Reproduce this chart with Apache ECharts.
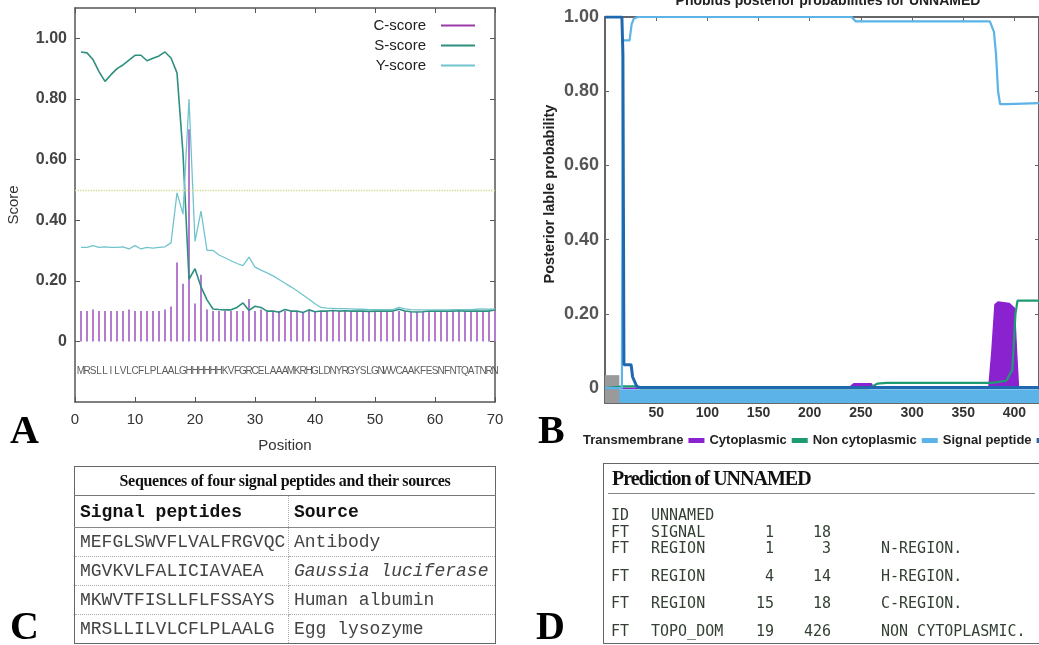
<!DOCTYPE html>
<html>
<head>
<meta charset="utf-8">
<script src="https://cdn.jsdelivr.net/npm/echarts@6/dist/echarts.min.js"></script>
<style>
  body { margin: 0; background: #fff; }
  #chart { position: absolute; left: 0; top: 0; width: 1039px; height: 645px; }
  .tag { position: absolute; font-family: 'Liberation Serif', 'DejaVu Serif', serif; font-weight: bold; font-size: 40px; line-height: 40px; color: #000; }
  #tblC { position: absolute; left: 74px; top: 466px; width: 421px; border-collapse: collapse; border: 1px solid #666; table-layout: fixed; }
  #tblC td { padding: 0 5px; white-space: nowrap; overflow: hidden; }
  #tblC .ttl { height: 28px; text-align: center; font: bold 16px 'Liberation Serif', serif; color: #111; border-bottom: 1px solid #777; letter-spacing: -0.3px; }
  #tblC .hd td { height: 31px; font: bold 18px 'Liberation Mono', monospace; color: #111; border-bottom: 1px solid #888; }
  #tblC .row td { height: 28px; font: 18px 'Liberation Mono', monospace; color: #444; border-bottom: 1px dotted #aaa; }
  #tblC td.c1 { border-right: 1px dotted #aaa; }
  #boxD { position: absolute; left: 603px; top: 463px; width: 460px; height: 179px; border: 1px solid #666; }
  #boxD .ttl { position: absolute; left: 8px; top: 3px; font: bold 20px 'Liberation Serif', serif; letter-spacing: -1px; color: #111; }
  #boxD .rule { position: absolute; left: 4px; top: 29px; width: 427px; border-top: 1px solid #888; }
  #boxD span { position: absolute; font: 15px 'DejaVu Sans Mono', monospace; line-height: 16px; color: #344034; white-space: pre; }
</style>
</head>
<body>
<div id="chart"></div>
<div class="tag" style="left:10px;top:410px;">A</div>
<div class="tag" style="left:538px;top:410px;">B</div>
<div class="tag" style="left:10px;top:606px;">C</div>
<div class="tag" style="left:536px;top:606px;">D</div>
<table id="tblC"></table>
<div id="boxD"></div>
<script>
// ---- panel A: SignalP scores along the sequence
const seqText = 'MRSLLILVLCFLPLAALGHHHHHHKVFGRCELAAAMKRHGLDNYRGYSLGNWVCAAKFESNFNTQATNRN';
const seqLetters = seqText.split('');
const cScore = [
  0.10, 0.10, 0.105, 0.10, 0.10, 0.10, 0.10, 0.10, 0.105, 0.10,
  0.10, 0.10, 0.10, 0.10, 0.105, 0.115, 0.26, 0.19, 0.70, 0.125,
  0.22, 0.105, 0.10, 0.10, 0.10, 0.10, 0.10, 0.10, 0.14, 0.10,
  0.105, 0.10, 0.097, 0.10, 0.10, 0.10, 0.097, 0.097, 0.10, 0.10,
  0.10, 0.10, 0.10, 0.10, 0.10, 0.10, 0.097, 0.097, 0.097, 0.097,
  0.10, 0.10, 0.097, 0.10, 0.10, 0.097, 0.097, 0.097, 0.097, 0.097,
  0.097, 0.097, 0.10, 0.10, 0.10, 0.10, 0.10, 0.10, 0.10, 0.10
];
const sScore = [
  0.955, 0.952, 0.93, 0.89, 0.858, 0.88, 0.90, 0.912, 0.928, 0.944,
  0.944, 0.926, 0.934, 0.942, 0.955, 0.935, 0.886, 0.62, 0.205, 0.24,
  0.18, 0.137, 0.107, 0.105, 0.104, 0.104, 0.112, 0.127, 0.102, 0.116,
  0.112, 0.10, 0.10, 0.096, 0.105, 0.10, 0.10, 0.095, 0.104, 0.098,
  0.10, 0.10, 0.102, 0.10, 0.101, 0.10, 0.10, 0.10, 0.099, 0.10,
  0.10, 0.10, 0.10, 0.106, 0.10, 0.098, 0.097, 0.098, 0.10, 0.10,
  0.10, 0.10, 0.10, 0.101, 0.10, 0.10, 0.10, 0.10, 0.10, 0.104
];
const yScore = [
  0.31, 0.31, 0.316, 0.31, 0.312, 0.31, 0.31, 0.312, 0.305, 0.316,
  0.305, 0.31, 0.308, 0.31, 0.312, 0.325, 0.49, 0.42, 0.80, 0.33,
  0.43, 0.30, 0.30, 0.285, 0.276, 0.266, 0.257, 0.25, 0.278, 0.245,
  0.235, 0.226, 0.216, 0.204, 0.192, 0.18, 0.167, 0.153, 0.139, 0.124,
  0.112, 0.11, 0.109, 0.108, 0.108, 0.107, 0.106, 0.106, 0.105, 0.105,
  0.105, 0.105, 0.105, 0.112, 0.107, 0.105, 0.104, 0.104, 0.104, 0.104,
  0.104, 0.104, 0.105, 0.105, 0.105, 0.105, 0.106, 0.107, 0.106, 0.107
];
const scoreTicks = [0, 0.2, 0.4, 0.6, 0.8, 1.0];
const positionTicks = [0, 10, 20, 30, 40, 50, 60, 70];
const cutoff = 0.5;

// ---- panel B: Phobius posterior probabilities, [position, probability]
const transmembrane = [[0, 0], [238, 0], [243, 0.012], [260, 0.012], [263, 0], [375, 0], [378, 0.1], [381, 0.225],
  [384, 0.232], [395, 0.228], [400, 0.215], [402, 0.1], [404, 0], [424, 0]];
const cytoplasmic = [[0, 0], [18, 0.005], [30, 0.005], [35, 0], [258, 0], [266, 0.012], [275, 0.014], [378, 0.014],
  [392, 0.02], [398, 0.05], [401, 0.2], [403, 0.236], [424, 0.236]];
const nonCytoplasmic = [[0, 0], [16.5, 0], [17.5, 0.937], [24, 0.937], [26, 0.98], [28, 0.995], [32, 1], [241, 1],
  [245, 0.988], [376, 0.988], [380, 0.96], [382, 0.9], [384, 0.8], [386, 0.765], [393, 0.765], [394, 0.768], [424, 0.768]];
const signalPeptide = [[0, 1], [16.5, 1], [17.5, 0.9], [18.5, 0.063], [25.5, 0.063], [27, 0.03], [31, 0.005],
  [34, 0.002], [424, 0.002]];
const probTicks = [0, 0.2, 0.4, 0.6, 0.8, 1.0];
const residueTicks = [0, 50, 100, 150, 200, 250, 300, 350, 400];
const residueLabels = [50, 100, 150, 200, 250, 300, 350, 400];

// ---- panel C / D tables
const tableCTitle = 'Sequences of four signal peptides and their sources';
const tableCHeader = ['Signal peptides', 'Source'];
const peptides = ['MEFGLSWVFLVALFRGVQC', 'MGVKVLFALICIAVAEA', 'MKWVTFISLLFLFSSAYS', 'MRSLLILVLCFLPLAALG'];
const sources = ['Antibody', 'Gaussia luciferase', 'Human albumin', 'Egg lysozyme'];
const italicSources = ['Gaussia luciferase'];

const tableDTitle = 'Prediction of UNNAMED';
const predRows = [
  ['ID', 'UNNAMED', '', '', ''],
  ['FT', 'SIGNAL', '1', '18', ''],
  ['FT', 'REGION', '1', '3', 'N-REGION.'],
  ['FT', 'REGION', '4', '14', 'H-REGION.'],
  ['FT', 'REGION', '15', '18', 'C-REGION.'],
  ['FT', 'TOPO_DOM', '19', '426', 'NON CYTOPLASMIC.']
];

// build table C
const tblC = document.getElementById('tblC');
let html = `<colgroup><col style="width:214px"><col style="width:207px"></colgroup>`;
html += `<tr><td class="ttl" colspan="2">${tableCTitle}</td></tr>`;
html += `<tr class="hd"><td class="c1">${tableCHeader[0]}</td><td>${tableCHeader[1]}</td></tr>`;
peptides.forEach((p, i) => {
  const src = italicSources.includes(sources[i]) ? `<i>${sources[i]}</i>` : sources[i];
  html += `<tr class="row"><td class="c1">${p}</td><td>${src}</td></tr>`;
});
tblC.innerHTML = html;

// build table D
const boxD = document.getElementById('boxD');
const rowTops = [43, 60, 76, 104, 131, 159];
let dHtml = `<div class="ttl">${tableDTitle}</div><div class="rule"></div>`;
predRows.forEach((r, i) => {
  const t = rowTops[i];
  dHtml += `<span style="left:7px;top:${t}px">${r[0]}</span>`;
  dHtml += `<span style="left:47px;top:${t}px">${r[1]}</span>`;
  dHtml += `<span style="right:${460 - 170}px;top:${t}px">${r[2]}</span>`;
  dHtml += `<span style="right:${460 - 227}px;top:${t}px">${r[3]}</span>`;
  dHtml += `<span style="left:277px;top:${t}px">${r[4]}</span>`;
});
boxD.innerHTML = dHtml;

// ---- chart
const narrow = "'Liberation Sans Narrow', 'Liberation Sans', Arial, sans-serif";
const sans = "'Liberation Sans', Arial, sans-serif";
const frameA = { show: true, onZero: false, lineStyle: { color: '#555', width: 1.5 } };
const frameB = { show: true, onZero: false, lineStyle: { color: '#666', width: 2 } };

const chart = echarts.init(document.getElementById('chart'));
chart.setOption({
  animation: false,
  title: {
    text: 'Phobius posterior probabilities for UNNAMED',
    left: 823, top: -11, textAlign: 'center',
    textStyle: { fontFamily: sans, fontSize: 14, fontWeight: 'bold', color: '#222' }
  },
  legend: [
    {
      data: [{ name: 'C-score', itemStyle: { color: '#9c3aa8' } }, 'S-score', 'Y-score'],
      orient: 'vertical', right: 559, top: 13, align: 'right',
      icon: 'rect', itemWidth: 34, itemHeight: 2, itemGap: 5,
      textStyle: { fontFamily: narrow, fontSize: 15, color: '#222', padding: [0, 10, 0, 0] }
    },
    {
      data: ['Transmembrane', 'Cytoplasmic', 'Non cytoplasmic', 'Signal peptide'],
      left: 578, top: 429, width: 700, align: 'right',
      icon: 'rect', itemWidth: 16, itemHeight: 5, itemGap: 5,
      textStyle: { fontFamily: sans, fontSize: 13, fontWeight: 'bold', color: '#222' }
    }
  ],
  grid: [
    { left: 75, top: 8, width: 420, height: 394 },
    { left: 605, top: 17, width: 436, height: 386 }
  ],
  xAxis: [
    {
      gridIndex: 0, type: 'value', min: 0, max: 70,
      axisLine: frameA, splitLine: { show: false },
      axisTick: { inside: true, length: 5, customValues: positionTicks, lineStyle: { color: '#555' } },
      axisLabel: { customValues: positionTicks, margin: 10, fontFamily: narrow, fontSize: 15, color: '#333' },
      name: 'Position', nameLocation: 'middle', nameGap: 36,
      nameTextStyle: { fontFamily: narrow, fontSize: 15, color: '#333' }
    },
    {
      gridIndex: 0, type: 'value', position: 'top', min: 0, max: 70,
      axisLine: frameA, splitLine: { show: false }, axisLabel: { show: false },
      axisTick: { inside: true, length: 5, customValues: positionTicks, lineStyle: { color: '#555' } }
    },
    {
      gridIndex: 1, type: 'value', min: 0, max: 424,
      axisLine: frameB, splitLine: { show: false },
      axisTick: { inside: true, length: 4, customValues: residueTicks, lineStyle: { color: '#666' } },
      axisLabel: { customValues: residueLabels, margin: 3, fontFamily: sans, fontSize: 14, fontWeight: 'bold', color: '#333' }
    },
    {
      gridIndex: 1, type: 'value', position: 'top', min: 0, max: 424,
      axisLine: frameB, splitLine: { show: false }, axisLabel: { show: false },
      axisTick: { inside: true, length: 4, customValues: residueTicks, lineStyle: { color: '#666' } }
    }
  ],
  yAxis: [
    {
      gridIndex: 0, type: 'value', min: -0.2, max: 1.1,
      axisLine: frameA, splitLine: { show: false },
      axisTick: { inside: true, length: 5, customValues: scoreTicks, lineStyle: { color: '#555' } },
      axisLabel: {
        customValues: scoreTicks, margin: 8, fontFamily: sans, fontSize: 16, fontWeight: 'bold', color: '#444',
        formatter: v => (v === 0 ? '0' : v.toFixed(2))
      },
      name: 'Score', nameLocation: 'middle', nameGap: 54,
      nameTextStyle: { fontFamily: sans, fontSize: 15, color: '#333' }
    },
    {
      gridIndex: 0, type: 'value', position: 'right', min: -0.2, max: 1.1,
      axisLine: frameA, splitLine: { show: false }, axisLabel: { show: false },
      axisTick: { inside: true, length: 5, customValues: scoreTicks, lineStyle: { color: '#555' } }
    },
    {
      gridIndex: 1, type: 'value', min: -0.04, max: 1,
      axisLine: frameB, splitLine: { show: false },
      axisTick: { inside: true, length: 4, customValues: probTicks, lineStyle: { color: '#666' } },
      axisLabel: {
        customValues: probTicks, margin: 6, fontFamily: sans, fontSize: 18, fontWeight: 'bold', color: '#555',
        formatter: v => (v === 0 ? '0' : v.toFixed(2))
      },
      name: 'Posterior lable probability', nameLocation: 'middle', nameGap: 48,
      nameTextStyle: { fontFamily: sans, fontSize: 14.5, fontWeight: 'bold', color: '#222', padding: [0, 0, 0, 32] }
    },
    {
      gridIndex: 1, type: 'value', position: 'right', min: -0.04, max: 1,
      axisLine: frameB, splitLine: { show: false }, axisLabel: { show: false },
      axisTick: { inside: true, length: 4, customValues: probTicks, lineStyle: { color: '#666' } }
    }
  ],
  series: [
    {
      name: 'C-score', type: 'bar', xAxisIndex: 0, yAxisIndex: 0, barWidth: 2,
      itemStyle: { color: '#b47ccf' },
      data: cScore.map((v, i) => [i + 1, v])
    },
    {
      name: 'S-score', type: 'line', xAxisIndex: 0, yAxisIndex: 0, symbol: 'none',
      lineStyle: { color: '#2f8f7f', width: 1.6 }, itemStyle: { color: '#2f8f7f' },
      data: sScore.map((v, i) => [i + 1, v])
    },
    {
      name: 'Y-score', type: 'line', xAxisIndex: 0, yAxisIndex: 0, symbol: 'none',
      lineStyle: { color: '#72c4cc', width: 1.3 }, itemStyle: { color: '#72c4cc' },
      data: yScore.map((v, i) => [i + 1, v]),
      markLine: {
        silent: true, symbol: 'none', label: { show: false },
        lineStyle: { color: '#d4da8a', type: 'dotted', width: 1.3 },
        data: [{ yAxis: cutoff }]
      }
    },
    {
      name: 'sequence', type: 'scatter', xAxisIndex: 0, yAxisIndex: 0, symbolSize: 0, silent: true,
      label: {
        show: true, position: 'inside', formatter: p => p.data[2],
        fontFamily: narrow, fontSize: 10, color: '#333'
      },
      data: seqLetters.map((c, i) => [i + 1, -0.1, c])
    },
    {
      name: 'Transmembrane', type: 'line', xAxisIndex: 2, yAxisIndex: 2, symbol: 'none',
      lineStyle: { color: '#8a22d0', width: 1.5 }, itemStyle: { color: '#8a22d0' },
      areaStyle: { color: '#8a22d0', opacity: 1 },
      data: transmembrane
    },
    {
      name: 'Cytoplasmic', type: 'line', xAxisIndex: 2, yAxisIndex: 2, symbol: 'none',
      lineStyle: { color: '#1f9b72', width: 2.2 }, itemStyle: { color: '#1f9b72' },
      data: cytoplasmic
    },
    {
      name: 'Non cytoplasmic', type: 'line', xAxisIndex: 2, yAxisIndex: 2, symbol: 'none',
      lineStyle: { color: '#5bb3e8', width: 2.2 }, itemStyle: { color: '#5bb3e8' },
      data: nonCytoplasmic,
      markArea: {
        silent: true,
        itemStyle: { color: '#5bb3e8', opacity: 1 },
        data: [
          [{ coord: [0, -0.04] }, { coord: [424, -0.003] }],
          [{ coord: [0, -0.045], itemStyle: { color: '#9a9a9a' } }, { coord: [14, 0.035] }]
        ]
      }
    },
    {
      name: 'Signal peptide', type: 'line', xAxisIndex: 2, yAxisIndex: 2, symbol: 'none',
      lineStyle: { color: '#1f68b0', width: 3 }, itemStyle: { color: '#1f68b0' },
      data: signalPeptide
    }
  ]
});
</script>
</body>
</html>
